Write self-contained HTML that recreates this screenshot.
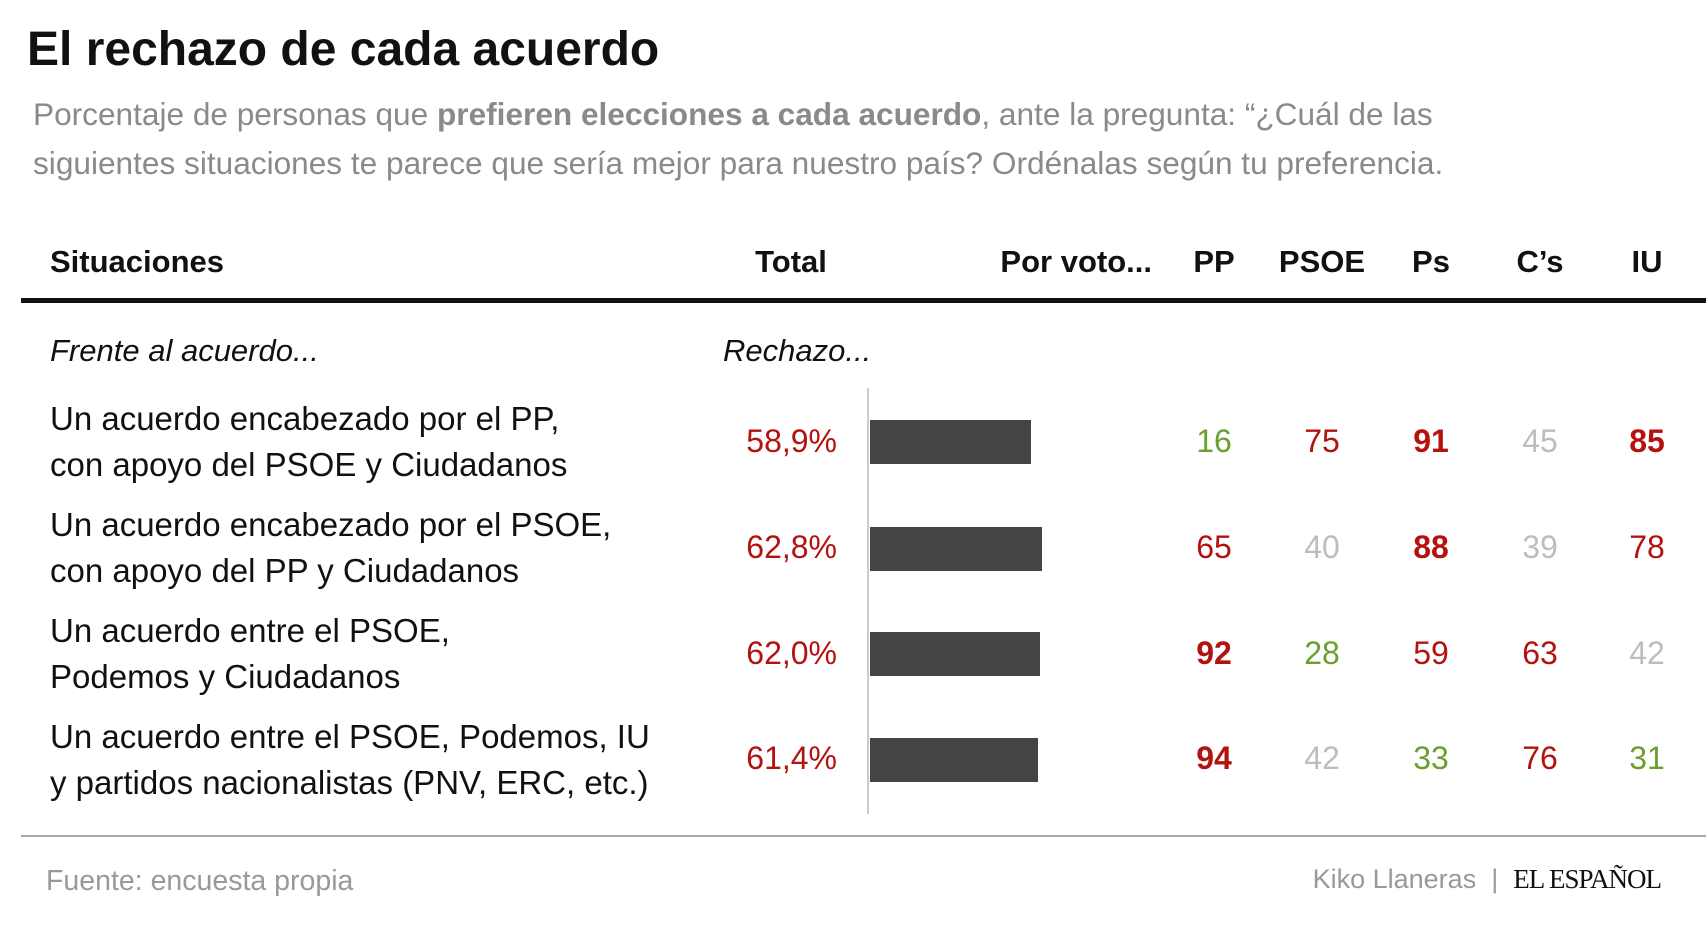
<!DOCTYPE html>
<html><head><meta charset="utf-8"><style>
body{margin:0;width:1706px;height:927px;background:#fff;font-family:"Liberation Sans",sans-serif;position:relative;overflow:hidden}
.a{position:absolute;white-space:nowrap}
.t{left:27px;top:22px;font-size:48px;color:#111;font-weight:bold}
.s{left:33px;font-size:31.6px;color:#8a8a8a}
.h{top:244px;font-size:31px;font-weight:bold;color:#111}
.c{transform:translateX(-50%)}
.r{transform:translateX(-100%)}
.lbl{left:50px;font-size:33px;color:#111;line-height:46px}
.n{font-size:32px}
.R{color:#b3120f}.G{color:#6b9f2e}.Y{color:#bdbdbd}.B{font-weight:bold}
.bar{position:absolute;left:870px;height:44px;background:#444}
</style></head><body>
<div class="a t">El rechazo de cada acuerdo</div>
<div class="a s" style="top:96px">Porcentaje de personas que <b>prefieren elecciones a cada acuerdo</b>, ante la pregunta: “¿Cuál de las</div>
<div class="a s" style="top:145px">siguientes situaciones te parece que sería mejor para nuestro país? Ordénalas según tu preferencia.</div>

<div class="a h" style="left:50px">Situaciones</div>
<div class="a h c" style="left:791px">Total</div>
<div class="a h r" style="left:1152px">Por voto...</div>
<div class="a h c" style="left:1214px">PP</div>
<div class="a h c" style="left:1322px">PSOE</div>
<div class="a h c" style="left:1431px">Ps</div>
<div class="a h c" style="left:1540px">C’s</div>
<div class="a h c" style="left:1647px">IU</div>
<div class="a" style="left:21px;top:298px;width:1685px;height:5px;background:#111"></div>

<div class="a" style="left:50px;top:333px;font-size:31px;font-style:italic;color:#111">Frente al acuerdo...</div>
<div class="a" style="left:723px;top:333px;font-size:31px;font-style:italic;color:#111">Rechazo...</div>

<div class="a" style="left:867px;top:388px;width:2px;height:426px;background:#ccc"></div>

<div class="a lbl" style="top:396px">Un acuerdo encabezado por el PP,<br>con apoyo del PSOE y Ciudadanos</div>
<div class="a lbl" style="top:502px">Un acuerdo encabezado por el PSOE,<br>con apoyo del PP y Ciudadanos</div>
<div class="a lbl" style="top:608px">Un acuerdo entre el PSOE,<br>Podemos y Ciudadanos</div>
<div class="a lbl" style="top:714px">Un acuerdo entre el PSOE, Podemos, IU<br>y partidos nacionalistas (PNV, ERC, etc.)</div>

<div class="bar" style="top:420px;width:161px"></div>
<div class="bar" style="top:527px;width:172px"></div>
<div class="bar" style="top:632px;width:170px"></div>
<div class="bar" style="top:738px;width:168px"></div>

<div class="a n R r" style="left:837px;top:423px">58,9%</div>
<div class="a n R r" style="left:837px;top:529px">62,8%</div>
<div class="a n R r" style="left:837px;top:635px">62,0%</div>
<div class="a n R r" style="left:837px;top:740px">61,4%</div>

<div class="a n c G" style="left:1214px;top:423px">16</div>
<div class="a n c R" style="left:1322px;top:423px">75</div>
<div class="a n c R B" style="left:1431px;top:423px">91</div>
<div class="a n c Y" style="left:1540px;top:423px">45</div>
<div class="a n c R B" style="left:1647px;top:423px">85</div>

<div class="a n c R" style="left:1214px;top:529px">65</div>
<div class="a n c Y" style="left:1322px;top:529px">40</div>
<div class="a n c R B" style="left:1431px;top:529px">88</div>
<div class="a n c Y" style="left:1540px;top:529px">39</div>
<div class="a n c R" style="left:1647px;top:529px">78</div>

<div class="a n c R B" style="left:1214px;top:635px">92</div>
<div class="a n c G" style="left:1322px;top:635px">28</div>
<div class="a n c R" style="left:1431px;top:635px">59</div>
<div class="a n c R" style="left:1540px;top:635px">63</div>
<div class="a n c Y" style="left:1647px;top:635px">42</div>

<div class="a n c R B" style="left:1214px;top:740px">94</div>
<div class="a n c Y" style="left:1322px;top:740px">42</div>
<div class="a n c G" style="left:1431px;top:740px">33</div>
<div class="a n c R" style="left:1540px;top:740px">76</div>
<div class="a n c G" style="left:1647px;top:740px">31</div>

<div class="a" style="left:21px;top:835px;width:1685px;height:2px;background:#aaa"></div>
<div class="a" style="left:46px;top:865px;font-size:28.5px;color:#999">Fuente: encuesta propia</div>
<div class="a r" style="left:1661px;top:864px;font-size:27px;color:#999">Kiko Llaneras &nbsp;| &nbsp;<span style="font-family:'Liberation Serif',serif;color:#111;letter-spacing:-1px">EL ESPAÑOL</span></div>
</body></html>
